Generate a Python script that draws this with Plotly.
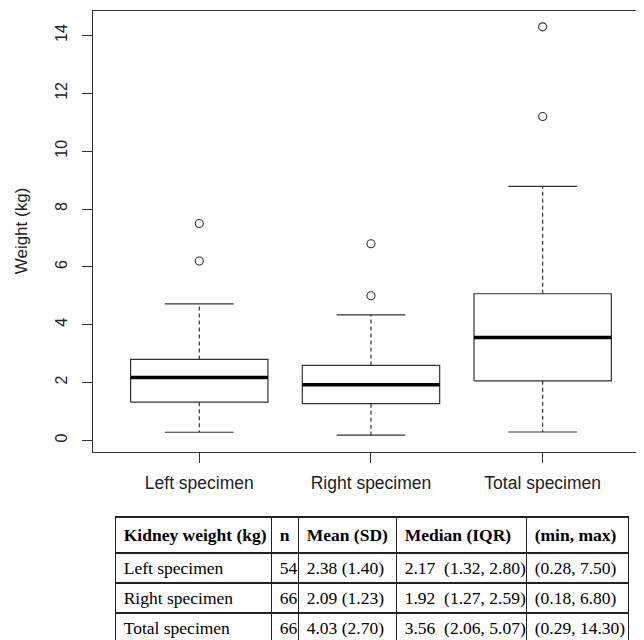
import plotly.graph_objects as go

# ---- data ----
groups = ["Left specimen", "Right specimen", "Total specimen"]
n_obs = [54, 66, 66]
means = [2.38, 2.09, 4.03]
sds = [1.40, 1.23, 2.70]
medians = [2.17, 1.92, 3.56]
q1 = [1.32, 1.27, 2.06]
q3 = [2.80, 2.59, 5.07]
mins = [0.28, 0.18, 0.29]
maxs = [7.50, 6.80, 14.30]
upper_whisker = [4.72, 4.34, 8.78]
outliers = [[6.2, 7.5], [5.0, 6.8], [11.2, 14.3]]
y_ticks = [0, 2, 4, 6, 8, 10, 12, 14]
table_header = ["Kidney weight (kg)", "n", "Mean (SD)", "Median (IQR)", "(min, max)"]

# the page body has an 8px margin; figure fills the rest of the 644x640 window
OFF = 8
W, H = 644 - OFF, 640 - OFF
BOXW = 0.4
CAPW = 0.2
LC = "#333333"


def nb(s):
    return s.replace(" ", "\u00a0")


fig = go.Figure()
for i, g in enumerate(groups):
    x = i + 1
    fig.add_trace(go.Scatter(
        x=[x - BOXW, x + BOXW, x + BOXW, x - BOXW, x - BOXW],
        y=[q1[i], q1[i], q3[i], q3[i], q1[i]],
        mode="lines", line=dict(color=LC, width=1.2),
        showlegend=False, hoverinfo="skip"))
    fig.add_trace(go.Scatter(
        x=[x - BOXW, x + BOXW], y=[medians[i], medians[i]],
        mode="lines", line=dict(color="#000000", width=3.5),
        showlegend=False, hoverinfo="skip"))
    for a, b in [(q3[i], upper_whisker[i]), (q1[i], mins[i])]:
        fig.add_trace(go.Scatter(
            x=[x, x], y=[a, b], mode="lines",
            line=dict(color=LC, width=1.2, dash="4px,3px"),
            showlegend=False, hoverinfo="skip"))
    for v in [upper_whisker[i], mins[i]]:
        fig.add_trace(go.Scatter(
            x=[x - CAPW, x + CAPW], y=[v, v], mode="lines",
            line=dict(color=LC, width=1.2),
            showlegend=False, hoverinfo="skip"))
    fig.add_trace(go.Scatter(
        x=[x] * len(outliers[i]), y=outliers[i], mode="markers",
        marker=dict(symbol="circle-open", size=8, color=LC, line=dict(width=1.1)),
        showlegend=False, hoverinfo="skip"))

# ---- table ----
col_mean = [nb(f"{m:.2f} ({s:.2f})") for m, s in zip(means, sds)]
col_med = [nb(f"{m:.2f}  ({a:.2f}, {b:.2f})") for m, a, b in zip(medians, q1, q3)]
col_rng = [nb(f"({a:.2f}, {b:.2f})") for a, b in zip(mins, maxs)]
fig.add_trace(go.Table(
    domain=dict(x=[(115.7 - OFF) / W, (629.5 - OFF) / W], y=[0, (640 - 517) / H]),
    columnwidth=[156, 27, 98, 130, 102],
    header=dict(values=[f"<b>{nb(h)}</b>" for h in table_header],
                align="left", height=32,
                line=dict(color="#222222", width=1.5),
                fill=dict(color="white"),
                font=dict(family="Liberation Serif", size=17.5, color="#000000")),
    cells=dict(values=[[nb(g) for g in groups], [str(v) for v in n_obs],
                       col_mean, col_med, col_rng],
               align="left", height=30,
               line=dict(color="#222222", width=1.5),
               fill=dict(color="white"),
               font=dict(family="Liberation Serif", size=17.5, color="#000000")),
))

XF = dict(family="Liberation Sans, Arial, sans-serif", size=17.5, color="#222222")
YF = dict(family="Liberation Sans, Arial, sans-serif", size=16, color="#222222")
TF = dict(family="Liberation Sans, Arial, sans-serif", size=17, color="#222222")
fig.update_layout(
    width=W, height=H,
    margin=dict(l=0, r=0, t=0, b=0),
    paper_bgcolor="white", plot_bgcolor="white",
    showlegend=False,
    xaxis=dict(domain=[(93 - OFF) / W, 1.0], range=[0.381, 0.381 + 551 / 171.7],
               tickmode="array", tickvals=[1, 2, 3], ticktext=groups,
               ticks="outside", ticklen=10, tickcolor=LC, tickwidth=1.2,
               showline=True, linecolor=LC, linewidth=1.2, mirror=True,
               showgrid=False, zeroline=False, tickfont=XF, ticklabelstandoff=5),
    yaxis=dict(domain=[(640 - 451.5) / H, (640 - 10.5) / H], range=[-0.385, 14.865],
               tickmode="array", tickvals=y_ticks,
               ticks="outside", ticklen=10, tickcolor=LC, tickwidth=1.2,
               showline=True, linecolor=LC, linewidth=1.2,
               showgrid=False, zeroline=False, tickangle=-90, tickfont=YF,
               ticklabelstandoff=9,
               title=dict(text="Weight (kg)", font=TF, standoff=20)),
)

fig.write_html("out.html")
